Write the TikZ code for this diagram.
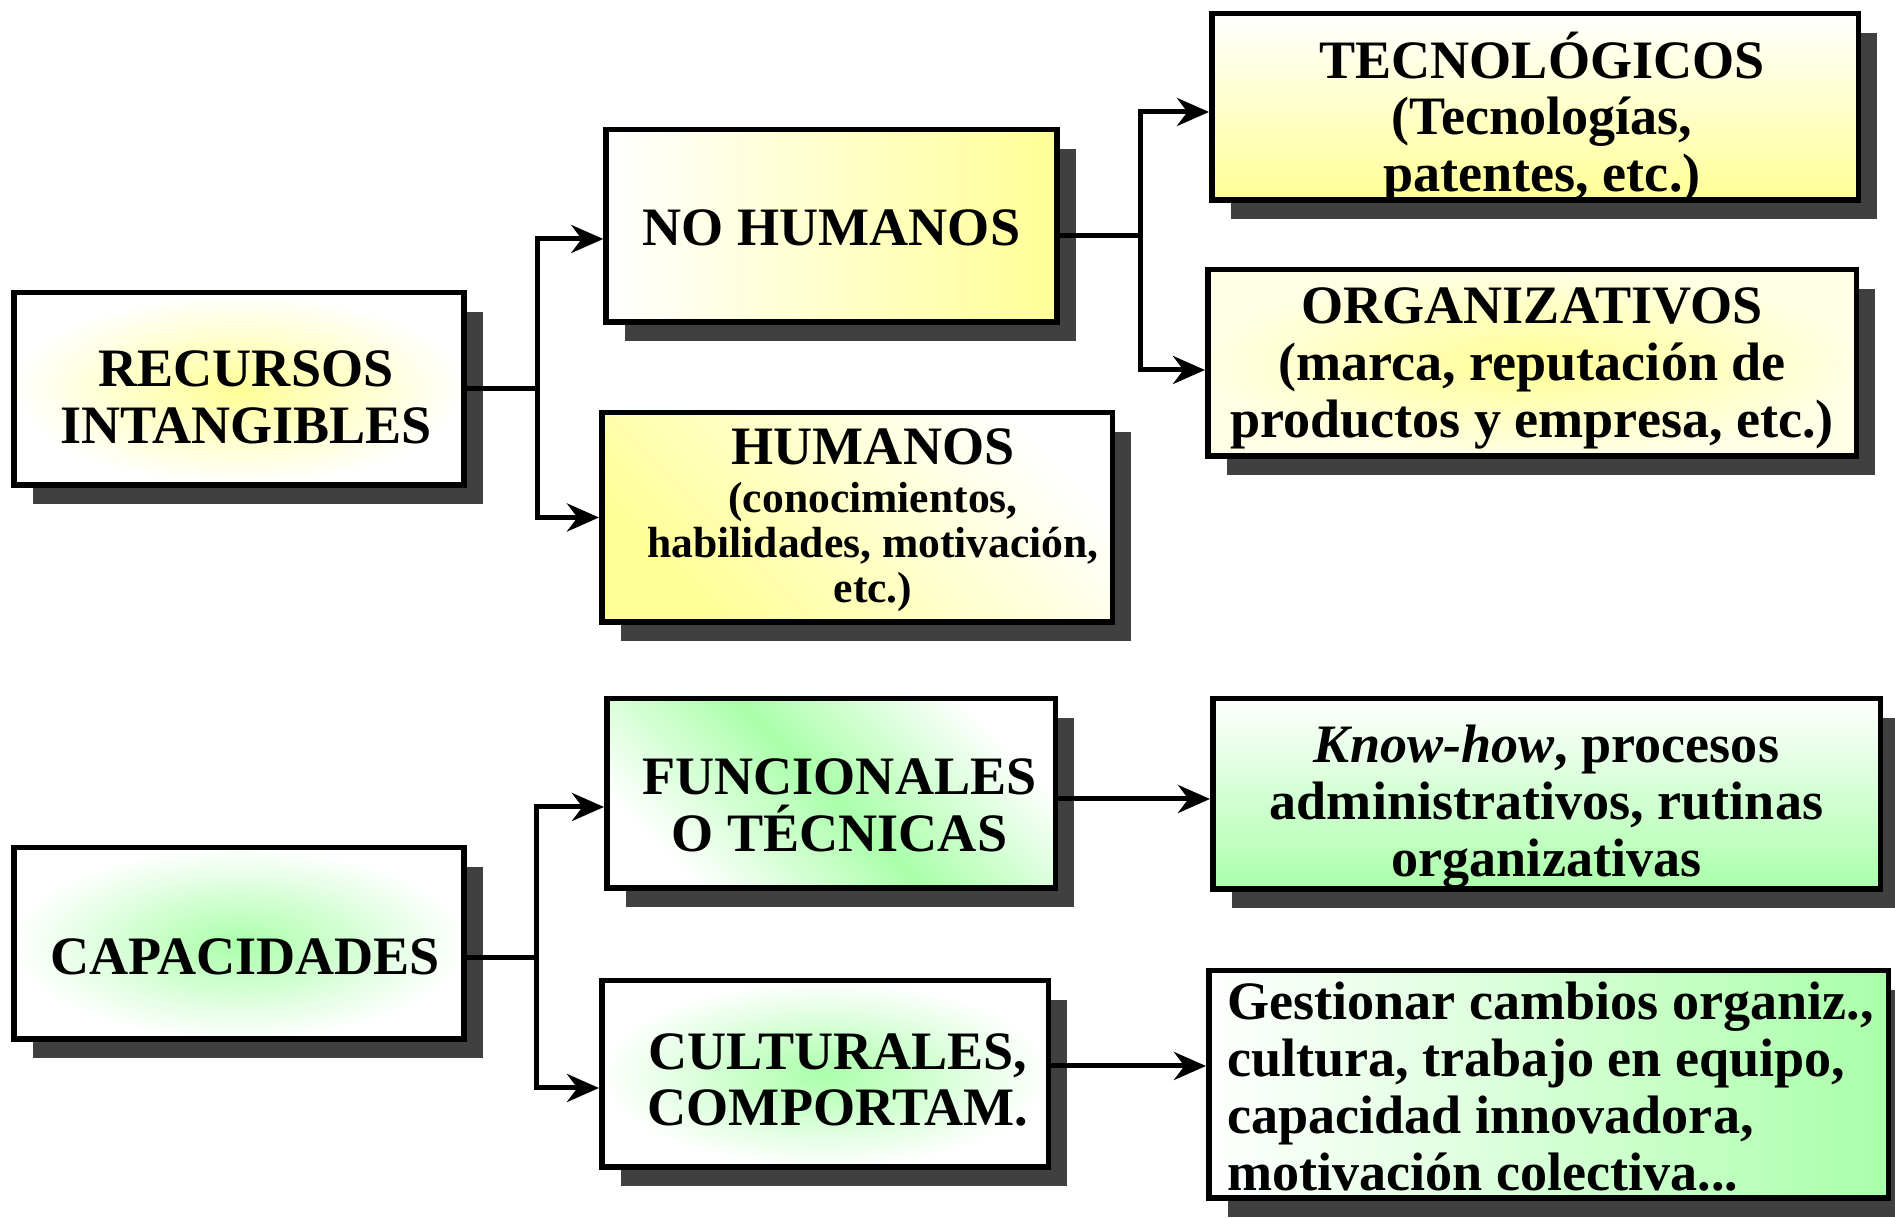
\documentclass[tikz,border=0pt]{standalone}
\usepackage{fontspec}
\setmainfont{Liberation Serif}
\usetikzlibrary{arrows.meta,shadows,positioning,calc}

\definecolor{yel}{RGB}{255,255,150}
\definecolor{grn}{RGB}{170,255,170}
\definecolor{shadowgray}{RGB}{64,64,64}

\tikzset{
  box/.style={rectangle, draw=black, line width=0.055cm, inner sep=0pt,
    drop shadow={shadow xshift=0.19cm, shadow yshift=-0.19cm, fill=shadowgray, opacity=1}},
  txt/.style={align=center, inner sep=0pt, font=\bfseries\fontsize{15.4}{16.2}\selectfont},
  smalltxt/.style={txt, font=\bfseries\fontsize{12.4}{12.9}\selectfont},
  arr/.style={line width=0.05cm, -{Stealth[length=0.32cm,width=0.28cm]}},
}

\begin{document}
\begin{tikzpicture}
\useasboundingbox (0,0) rectangle (18.95,-12.19);

\node[box, minimum width=4.50cm, minimum height=1.925cm, shading=radial, inner color=yel, outer color=white,
  label={[txt, xshift=0.07cm, yshift=-0.085cm]center:{RECURSOS\\INTANGIBLES}}] (rec) at (2.39,-3.89) {};
\node[box, minimum width=4.51cm, minimum height=1.925cm, left color=white, right color=yel,
  label={[txt, yshift=-0.02cm]center:{NO HUMANOS}}] (nohum) at (8.315,-2.26) {};
\node[box, minimum width=5.105cm, minimum height=2.095cm, top color=white, bottom color=yel, shading angle=-45,
  label={[smalltxt, xshift=0.16cm, yshift=-0.03cm]center:{{\fontsize{15.4}{16.2}\selectfont HUMANOS}\\[0.6pt](conocimientos,\\habilidades, motivación,\\etc.)}}] (hum) at (8.57,-5.175) {};
\node[box, minimum width=6.465cm, minimum height=1.865cm, top color=white, bottom color=yel,
  label={[txt, xshift=0.07cm, yshift=-0.105cm]center:{TECNOLÓGICOS\\(Tecnologías,\\patentes, etc.)}}] (tec) at (15.35,-1.07) {};
\node[box, minimum width=6.485cm, minimum height=1.865cm, shading=radial, inner color=yel, outer color=yel!25,
  label={[txt, yshift=-0.05cm]center:{ORGANIZATIVOS\\(marca, reputación de\\productos y empresa, etc.)}}] (org) at (15.32,-3.63) {};

\node[box, minimum width=4.50cm, minimum height=1.915cm, shading=radial, inner color=grn, outer color=white,
  label={[txt, xshift=0.06cm, yshift=-0.13cm]center:{CAPACIDADES}}] (cap) at (2.39,-9.435) {};
\node[box, minimum width=4.485cm, minimum height=1.895cm, top color=white, bottom color=white, middle color=grn, shading angle=-45,
  label={[txt, xshift=0.085cm, yshift=-0.12cm]center:{FUNCIONALES\\O TÉCNICAS}}] (func) at (8.31,-7.935) {};
\node[box, minimum width=4.465cm, minimum height=1.865cm, shading=radial, inner color=grn, outer color=white,
  label={[txt, xshift=0.13cm, yshift=-0.06cm]center:{CULTURALES,\\COMPORTAM.}}] (cult) at (8.25,-10.74) {};
\node[box, minimum width=6.675cm, minimum height=1.905cm, top color=white, bottom color=grn,
  label={[txt, yshift=-0.13cm]center:{\textit{Know-how}, procesos\\administrativos, rutinas\\organizativas}}] (know) at (15.465,-7.94) {};
\node[box, minimum width=6.795cm, minimum height=2.275cm, left color=white, right color=grn,
  label={[txt, align=left, xshift=0.02cm, yshift=-0.02cm]center:{Gestionar cambios organiz.,\\cultura, trabajo en equipo,\\capacidad innovadora,\\motivación colectiva...}}] (gest) at (15.485,-10.845) {};

\draw[arr] (rec.east) -- ++(0.71,0) |- ([yshift=-0.13cm]nohum.west);
\draw[arr] (rec.east) -- ++(0.71,0) |- (hum.west);
\draw[arr] ([yshift=-0.1cm]nohum.east) -- ++(0.81,0) |- ([yshift=-0.05cm]tec.west);
\draw[arr] ([yshift=-0.1cm]nohum.east) -- ++(0.81,0) |- ([yshift=-0.07cm]org.west);
\draw[arr] ([yshift=-0.145cm]cap.east) -- ++(0.70,0) |- ([yshift=-0.135cm]func.west);
\draw[arr] ([yshift=-0.145cm]cap.east) -- ++(0.70,0) |- ([yshift=-0.14cm]cult.west);
\draw[arr] ([yshift=-0.055cm]func.east) -- ([yshift=-0.055cm]func.east -| know.west);
\draw[arr] ([yshift=0.08cm]cult.east) -- ([yshift=0.08cm]cult.east -| gest.west);
\end{tikzpicture}
\end{document}
